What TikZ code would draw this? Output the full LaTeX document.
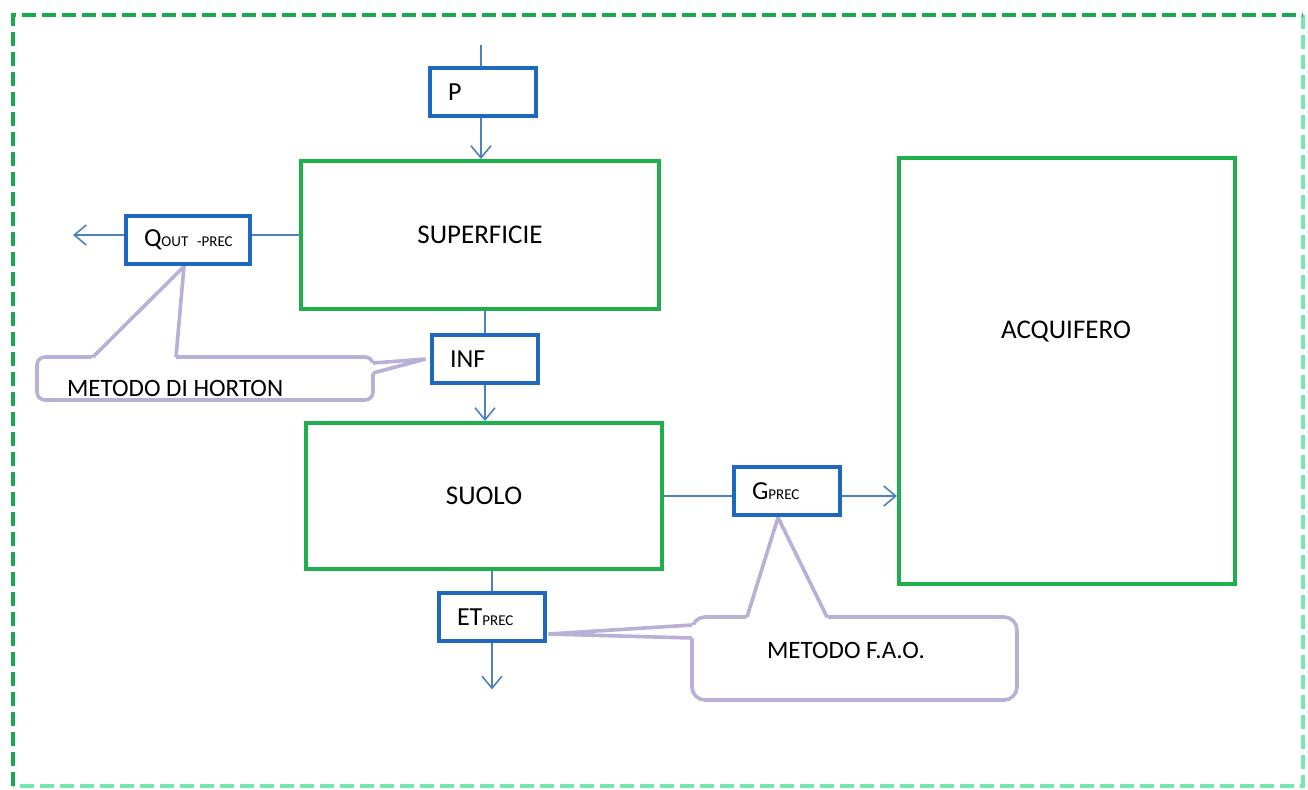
\documentclass[tikz,border=0pt]{standalone}
\usepackage{fontspec}
\setmainfont{Carlito}
\usetikzlibrary{arrows.meta, positioning, calc, backgrounds}

\definecolor{boxblue}{RGB}{30,105,190}
\definecolor{flowblue}{RGB}{79,129,189}
\definecolor{compgreen}{RGB}{30,176,75}
\definecolor{notelilac}{RGB}{185,175,215}
\definecolor{framegreen}{RGB}{25,170,80}
\definecolor{framemint}{RGB}{120,230,175}

\newcommand{\pedice}[1]{{\fontsize{7.5}{9}\selectfont #1}}

\tikzset{
  compbox/.style={draw=compgreen, line width=2pt, font=\fontsize{13.5}{16}\selectfont},
  fluxbox/.style={draw=boxblue, line width=2.4pt, minimum height=24pt, inner xsep=9pt,
    text width=35pt, align=left, font=\fontsize{13}{15}\selectfont},
  flow/.style={draw=flowblue, line width=0.8pt},
  flowarr/.style={flow, -{Straight Barb[length=6pt,width=10pt]}},
  note/.style={draw=notelilac, line width=1.8pt},
  notetext/.style={font=\fontsize{12.5}{14}\selectfont},
  frame/.style={line width=1.8pt, dash pattern=on 7pt off 3pt}
}

\begin{document}
\begin{tikzpicture}[x=0.5pt, y=-0.5pt]
\useasboundingbox (0,0) rectangle (1308,789);

% cornice tratteggiata
\draw[frame, draw=framemint] (1303,15) -- (1303,786) -- (13,786);
\draw[frame, draw=framegreen] (13,786) -- (13,15) -- (1303,15);

% comparti
\node[compbox, minimum width=179pt, minimum height=74pt] (sup) at (480,235) {SUPERFICIE};
\node[compbox, minimum width=178pt, minimum height=73pt] (suolo) at (484,496) {SUOLO};
\node[compbox, minimum width=168pt, minimum height=213pt] (acq) at (1067,371) {};
\node[font=\fontsize{13.5}{16}\selectfont] (acqlbl) at (1066,332) {ACQUIFERO};

% flussi
\node[fluxbox] (p) at (483,92) {P};
\node[fluxbox, text width=44pt, align=center] (qout) at (188,240) {\mbox{Q\pedice{OUT -PREC}}};
\node[fluxbox] (inf) at (485,359) {INF};
\node[fluxbox] (g) at (787,491) {G\pedice{PREC}};
\node[fluxbox] (et) at (492,617) {ET\pedice{PREC}};

\coordinate (pin) at (481,45);
\coordinate (qend) at (73,235);
\coordinate (etend) at ($(et.south)+(0,46)$);

\draw[flow] (pin) -- (pin |- p.north);
\draw[flowarr] (pin |- p.south) -- (pin |- sup.north);
\draw[flow] (sup.west) -- (sup.west -| qout.east);
\draw[flowarr] (sup.west -| qout.west) -- (qend);
\draw[flow] (inf.north |- sup.south) -- (inf.north);
\draw[flowarr] (inf.south) -- (inf.south |- suolo.north);
\draw[flow] (suolo.east) -- (suolo.east -| g.west);
\draw[flowarr] (suolo.east -| g.east) -- (suolo.east -| acq.west);
\draw[flow] (et.north |- suolo.south) -- (et.north);
\draw[flowarr] (et.south) -- (etend);

% note
\node[notetext, anchor=west] (horton) at (60,388) {METODO DI HORTON};
\node[notetext] (fao) at (846,650) {METODO F.A.O.};

\begin{scope}[on background layer]
% Horton
\coordinate (h1) at (93,357);
\coordinate (h2) at (176,357);
\coordinate (h3) at (373,363);
\coordinate (h4) at (373,373);
\coordinate (hq) at ($(qout.south)+(-4,0)$);
\coordinate (hi) at ($(inf.west)+(-4,0)$);
\draw[note, fill=white, rounded corners=4pt] (37,357) rectangle (373,400);
\fill[white] ($(hq)!1.06!(h1)$) -- (hq) -- ($(hq)!1.06!(h2)$) -- cycle;
\draw[note] (h1) -- (hq) -- (h2);
\fill[white] ($(hi)!1.1!(h3)$) -- (hi) -- ($(hi)!1.1!(h4)$) -- cycle;
\draw[note] (h3) -- (hi) -- (h4);
% F.A.O.
\coordinate (f1) at (747,617);
\coordinate (f2) at (827,617);
\coordinate (f3) at (692,625);
\coordinate (f4) at (692,638);
\coordinate (fg) at ($(g.south)+(-9,0)$);
\coordinate (fe) at ($(et.east)+(1,17)$);
\draw[note, fill=white, rounded corners=6.5pt] (692,617) rectangle (1017,700);
\fill[white] ($(fg)!1.06!(f1)$) -- (fg) -- ($(fg)!1.06!(f2)$) -- cycle;
\draw[note] (f1) -- (fg) -- (f2);
\fill[white] ($(fe)!1.04!(f3)$) -- (fe) -- ($(fe)!1.04!(f4)$) -- cycle;
\draw[note] (f3) -- (fe) -- (f4);
\end{scope}
\end{tikzpicture}
\end{document}
